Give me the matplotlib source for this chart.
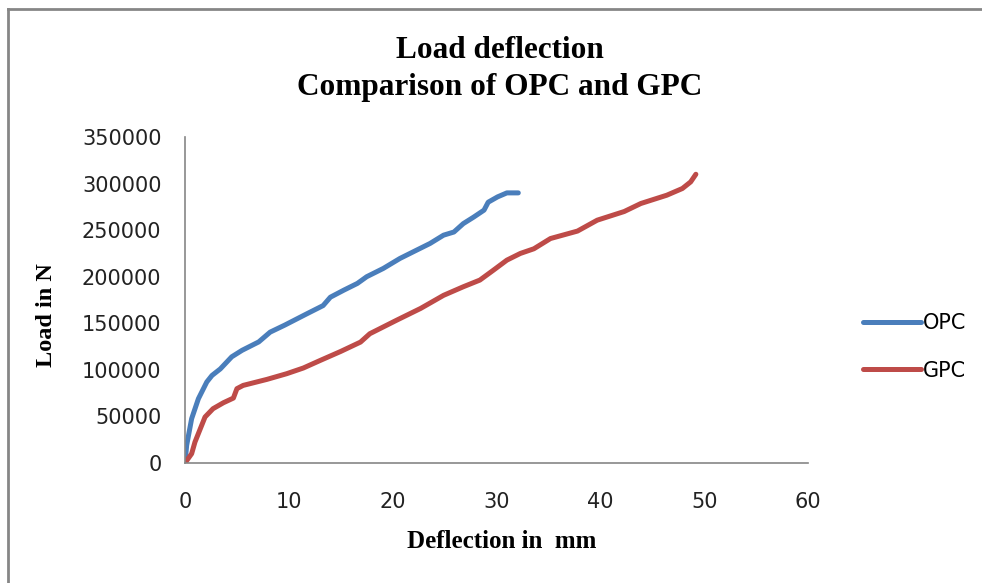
import matplotlib.pyplot as plt
from matplotlib.lines import Line2D

# deflection (mm) and load (N) readings
opc_defl = [0, 0.16, 0.64, 1.29, 2.1, 2.6, 3.4, 4.5, 5.5, 7.1, 8.2, 9.6, 11.7, 13.3,
            14.0, 15.3, 16.6, 17.5, 19.1, 20.7, 22.3, 23.6, 24.9, 25.9, 26.8, 27.8,
            28.8, 29.2, 30.1, 31.0, 32.1]
opc_load = [0, 19000, 47600, 69000, 87000, 94000, 101000, 114000, 121000, 130000,
            140500, 148000, 160000, 169000, 178000, 185600, 192800, 200000, 208900,
            219600, 228500, 235700, 244600, 248000, 257000, 264000, 271500, 280000,
            285700, 290000, 290000]

gpc_defl = [0, 0.64, 0.96, 1.93, 2.7, 3.7, 4.66, 5.0, 5.6, 7.9, 9.8, 11.4, 13.0, 15.0,
            16.9, 17.8, 20.4, 22.7, 24.9, 26.8, 28.4, 29.7, 31.0, 32.3, 33.6, 35.2,
            37.8, 39.7, 42.3, 43.9, 46.4, 47.9, 48.7, 49.2]
gpc_load = [0, 10000, 22500, 49400, 58300, 64700, 69700, 79800, 83300, 89800, 95900,
            102000, 110000, 119800, 129800, 138800, 153400, 166000, 180000, 189200,
            196400, 207000, 217800, 225000, 230000, 241000, 249000, 260700, 270000,
            278600, 287500, 294700, 301800, 310000]

serif = "Liberation Serif"
axis_grey = "#868686"

fig = plt.figure(figsize=(9.82, 5.83), dpi=100)
ax = fig.add_axes([185 / 982, 1 - 463 / 583, 623 / 982, 326 / 583])

ax.plot(opc_defl, opc_load, color="#4A7EBB", lw=3.6, solid_joinstyle="round",
        solid_capstyle="round", label="OPC")
ax.plot(gpc_defl, gpc_load, color="#BE4B48", lw=3.6, solid_joinstyle="round",
        solid_capstyle="round", label="GPC")

ax.set_xlim(0, 60)
ax.set_ylim(0, 350000)
ax.set_xticks(range(0, 61, 10))
ax.set_yticks(range(0, 350001, 50000))
ax.tick_params(length=0, labelsize=15, colors="#222222")
ax.yaxis.set_tick_params(pad=17)
ax.xaxis.set_tick_params(pad=21)
for side in ["top", "right"]:
    ax.spines[side].set_visible(False)
for side in ["left", "bottom"]:
    ax.spines[side].set_color(axis_grey)
    ax.spines[side].set_linewidth(1.2)

ax.set_xlabel("Deflection in  mm", fontfamily=serif, fontweight="bold", fontsize=18)
ax.set_ylabel("Load in N", fontfamily=serif, fontweight="bold", fontsize=17.5)
ax.xaxis.set_label_coords(0.508, -0.205)
ax.yaxis.set_label_coords(-0.205, 0.455)

fig.text(0.509, 1 - 69 / 583, "Load deflection\nComparison of OPC and GPC",
         ha="center", va="center", fontfamily=serif, fontweight="bold",
         fontsize=22.5, linespacing=1.33)

ax.legend(loc="center left", bbox_to_anchor=(855 / 982, 1 - 347 / 583),
          bbox_transform=fig.transFigure, frameon=False, fontsize=15,
          handlelength=2.75, handletextpad=0.1, labelspacing=1.3,
          borderaxespad=0.0)

# chart border (top and left edges)
fig.add_artist(Line2D([7.5 / 982, 1], [1 - 9 / 583, 1 - 9 / 583], color=axis_grey,
                      lw=2, transform=fig.transFigure))
fig.add_artist(Line2D([7.5 / 982, 7.5 / 982], [0, 1 - 9 / 583], color=axis_grey,
                      lw=2, transform=fig.transFigure))

fig.savefig("out.png", dpi=100)
